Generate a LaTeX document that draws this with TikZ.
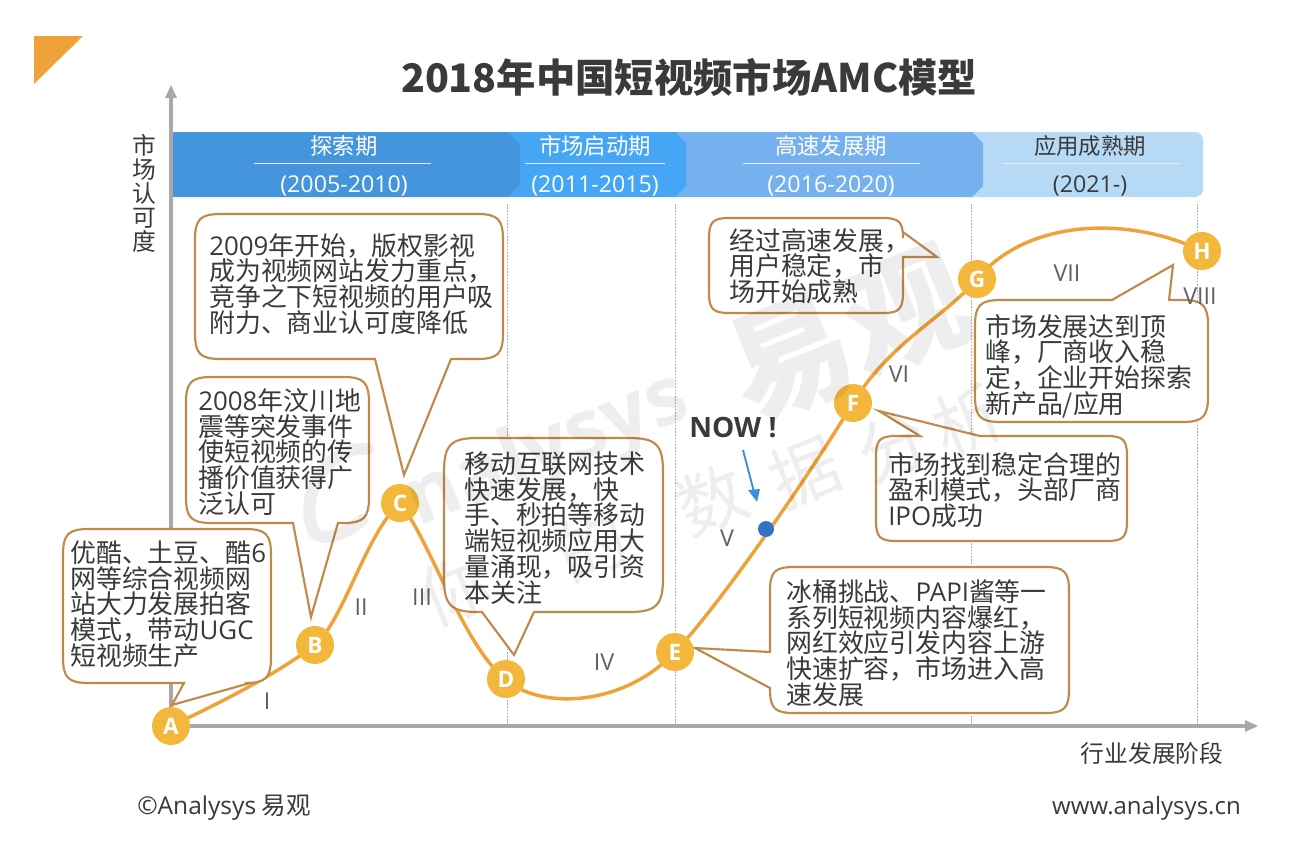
\documentclass[tikz,border=0pt]{standalone}
\usepackage{fontspec}
\setmainfont{Noto Sans CJK SC}
\newfontfamily\opn{Open Sans}
\newcommand{\lat}[1]{{\opn #1}}
\definecolor{txt}{HTML}{3A3A3A}
\definecolor{orangeC}{HTML}{F0A23A}
\definecolor{calloutC}{HTML}{C08A4A}
\definecolor{dotC}{HTML}{F3B73B}
\definecolor{axisC}{HTML}{A8A8A8}
\definecolor{bandA}{HTML}{4495DB}
\definecolor{bandB}{HTML}{45A6F5}
\definecolor{bandC}{HTML}{75B1EE}
\definecolor{bandD}{HTML}{B6DAF5}
\definecolor{nowC}{HTML}{3B8FDD}
\definecolor{dotblue}{HTML}{3372C4}
\tikzset{
  x=0.75pt,y=-0.75pt,
  callout/.style={draw=calloutC,fill=white,line width=1.6pt,line join=miter},
  calltext/.style={anchor=west,align=left,text=txt,font=\fontsize{19.4pt}{19.3pt}\selectfont,inner sep=0pt},
  letter/.style={circle,fill=dotC,text=white,minimum size=28.5pt,inner sep=0pt,font=\opn\bfseries\fontsize{17pt}{17pt}\selectfont},
  roman/.style={text=black!62,font=\opn\fontsize{17.5pt}{17.5pt}\selectfont,inner sep=0pt},
  bandhead/.style={font=\fontsize{16.8pt}{17pt}\selectfont,inner sep=0pt},
  bandyear/.style={font=\opn\fontsize{17.4pt}{17.4pt}\selectfont,inner sep=0pt},
  bandrule/.style={draw=white!92!blue,line width=1pt},
  gridline/.style={draw=gray!70,line width=0.5pt,dash pattern=on 1.2pt off 1.2pt},
  axisline/.style={draw=axisC,line width=2.6pt},
  axishead/.style={fill=axisC},
  curveC/.style={draw=orangeC,line width=2.6pt},
  wm/.style={text=black,text opacity=0.065,inner sep=0pt,rotate=22},
}
% #1 left #2 top #3 right #4 bottom #5 radius, then tail pieces for the top, right, bottom, left sides
\newcommand{\cbox}[9]{%
  \def\tailL{#9}%
  \draw[callout] (#1+#5,#2) #6 -- (#3-#5,#2) .. controls (#3-0.2*#5,#2) and (#3,#2+0.2*#5) .. (#3,#2+#5)
    #7 -- (#3,#4-#5) .. controls (#3,#4-0.2*#5) and (#3-0.2*#5,#4) .. (#3-#5,#4)
    #8 -- (#1+#5,#4) .. controls (#1+0.2*#5,#4) and (#1,#4-0.2*#5) .. (#1,#4-#5)
    \tailL -- (#1,#2+#5) .. controls (#1,#2+0.2*#5) and (#1+0.2*#5,#2) .. (#1+#5,#2) -- cycle;}
\begin{document}
\begin{tikzpicture}
\useasboundingbox (0,0) rectangle (1294,854);
\fill[white] (0,0) rectangle (1294,854);
% corner mark
\fill[orangeC] (34,36) -- (83,36) -- (34,84) -- cycle;
% title
\node[inner sep=0pt,text=txt,font=\bfseries\fontsize{29.5pt}{30pt}\selectfont] (title) at (689,77) {2018年中国短视频市场AMC模型};
% bands (right to left so that each arrow overlaps the next)
\fill[bandD,rounded corners=6pt] (960,132) rectangle (1203,197);
\fill[bandC] (675,132) -- (972,132) -- (983,143) -- (983,186) -- (972,197) -- (675,197) -- cycle;
\fill[bandB] (507,132) -- (675,132) -- (686,143) -- (686,186) -- (675,197) -- (507,197) -- cycle;
\fill[bandA] (172,134) -- (172,197) -- (507,197) -- (520,184) -- (520,144) -- (507,132) -- (174,132) -- cycle;
\node[bandhead,text=white] (h1) at (344,146) {探索期};
\node[bandhead,text=white] (h2) at (595,146) {市场启动期};
\node[bandhead,text=white] (h3) at (831,146) {高速发展期};
\node[bandhead,text=txt] (h4) at (1090,146) {应用成熟期};
\draw[bandrule] (254,163.5) -- (431,163.5);
\draw[bandrule] (525,163.5) -- (665,163.5);
\draw[bandrule] (743,163.5) -- (920,163.5);
\draw[bandrule] (1003,163.5) -- (1180,163.5);
\node[bandyear,text=white] (y1) at (344,186) {(2005-2010)};
\node[bandyear,text=white] (y2) at (595,186) {(2011-2015)};
\node[bandyear,text=white] (y3) at (831,186) {(2016-2020)};
\node[bandyear,text=txt] (y4) at (1090,186) {(2021-)};
% grid
\draw[gridline] (507,204) -- (507,726);
\draw[gridline] (675,204) -- (675,726);
\draw[gridline] (971,204) -- (971,726);
\draw[gridline] (1197,204) -- (1197,726);
% axes
\coordinate (origin) at (171,726);
\coordinate (ytop) at (171,97);
\coordinate (xend) at (1246,726);
\draw[axisline] (origin) -- (ytop);
\draw[axisline] (origin) -- (xend);
\fill[axishead] (165,98) -- (171,85) -- (177,98) -- cycle;
\fill[axishead] (1245,720) -- (1258,726) -- (1245,732) -- cycle;
\node[align=center,text=txt,inner sep=0pt,font=\fontsize{17.8pt}{18pt}\selectfont] (ylab) at (144,193) {市\\场\\认\\可\\度};
\node[text=txt,inner sep=0pt,font=\fontsize{17.8pt}{18pt}\selectfont] (xlab) at (1152,753) {行业发展阶段};
% curve
\coordinate (pA) at (171,726);
\coordinate (pB) at (315,645);
\coordinate (pC) at (400,503);
\coordinate (pD) at (506,679);
\coordinate (pE) at (675,652);
\coordinate (pF) at (853,403);
\coordinate (pG) at (977,279);
\coordinate (pH) at (1202,251);
\draw[curveC] (pA) .. controls (220,703) and (275,675) .. (pB)
  .. controls (345,618) and (365,535) .. (pC)
  .. controls (430,540) and (465,650) .. (pD)
  .. controls (535,708) and (620,710) .. (pE)
  .. controls (715,610) and (800,490) .. (pF)
  .. controls (890,342) and (945,317) .. (pG)
  .. controls (1028,218) and (1130,216) .. (pH);
% callouts
\cbox{63}{529}{271}{683}{26}{}{}{-- (250,683) -- (172,705) -- (184,683)}{}
\cbox{186}{377}{369}{523}{26}{}{}{-- (338,523) -- (311,617) -- (293,523)}{}
\cbox{195}{214}{503}{359}{26}{}{}{-- (451,359) -- (404,475) -- (375,359)}{}
\cbox{444}{438}{663}{612}{34}{}{}{-- (534,612) -- (514,655) -- (482,612)}{}
\cbox{770}{567}{1069}{713}{24}{}{}{}{-- (770,688) -- (695,648) -- (770,652)}
\cbox{876}{436}{1127}{541}{20}{-- (920,436) -- (879,411) -- (980,436)}{}{}{}
\cbox{709}{218}{903}{313}{20}{}{-- (903,232) -- (937,257) -- (903,257)}{}{}
\cbox{975}{300}{1208}{422}{26}{-- (1112,300) -- (1173,265) -- (1169,300)}{}{}{}
\node[calltext] (tA) at (70,604) {优酷、土豆、酷\lat{6}\\网等综合视频网\\站大力发展拍客\\模式，带动\lat{UGC}\\短视频生产};
\node[calltext] (tB) at (198,452) {\lat{2008}年汶川地\\震等突发事件\\使短视频的传\\播价值获得广\\泛认可};
\node[calltext] (tC) at (209,284) {\lat{2009}年开始，版权影视\\成为视频网站发力重点，\\竞争之下短视频的用户吸\\附力、商业认可度降低};
\node[calltext] (tD) at (464,528) {移动互联网技术\\快速发展，快\\手、秒拍等移动\\端短视频应用大\\量涌现，吸引资\\本关注};
\node[calltext] (tE) at (786,643) {冰桶挑战、\lat{PAPI}酱等一\\系列短视频内容爆红，\\网红效应引发内容上游\\快速扩容，市场进入高\\速发展};
\node[calltext] (tF) at (888,490) {市场找到稳定合理的\\盈利模式，头部厂商\\\lat{IPO}成功};
\node[calltext] (tG) at (729,266) {经过高速发展，\\用户稳定，市\\场开始成熟};
\node[calltext] (tH) at (985,366) {市场发展达到顶\\峰，厂商收入稳\\定，企业开始探索\\新产品/应用};
% circles
\node[letter] (A) at (pA) {A};
\node[letter] (B) at (pB) {B};
\node[letter] (C) at (pC) {C};
\node[letter] (D) at (pD) {D};
\node[letter] (E) at (pE) {E};
\node[letter] (F) at (pF) {F};
\node[letter] (G) at (pG) {G};
\node[letter] (H) at (pH) {H};
% roman
\node[roman] (r1) at (267,701) {I};
\node[roman] (r2) at (361,607) {II};
\node[roman] (r3) at (422,597) {III};
\node[roman] (r4) at (604,662) {IV};
\node[roman] (r5) at (727,538) {V};
\node[roman] (r6) at (899,374) {VI};
\node[roman] (r7) at (1067,273) {VII};
\node[roman] (r8) at (1200,296) {VIII};
% now
\node[inner sep=0pt,text=txt,font=\opn\bfseries\fontsize{21pt}{21pt}\selectfont] (now) at (733,428) {NOW !};
\node[circle,fill=dotblue,minimum size=12pt,inner sep=0pt] (dot) at (766,529) {};
\coordinate (nowstart) at (743,450);
\coordinate (nowend) at (757,502);
\draw[draw=nowC,line width=1.4pt] (nowstart) -- (754,492);
\fill[nowC] (748,490) -- (nowend) -- (760,489) -- cycle;
% footer
\node[anchor=west,inner sep=0pt,text=txt,font=\fontsize{18.4pt}{18.4pt}\selectfont] (foot) at (137,808) {\lat{©Analysys} 易观};
\node[anchor=east,inner sep=0pt,text=txt,font=\opn\fontsize{18pt}{18pt}\selectfont] (url) at (1241,808) {www.analysys.cn};
% watermark, faintly over everything
\draw[black,draw opacity=0.065,line width=9pt,line cap=round] (368,449) .. controls (330,445) and (300,490) .. (312,528) .. controls (318,545) and (345,535) .. (362,520);
\node[wm,font=\opn\bfseries\fontsize{60pt}{60pt}\selectfont] (wmA) at (548,452) {nalysys};
\node[wm,font=\bfseries\fontsize{92pt}{92pt}\selectfont] (wmB) at (848,335) {易观};
\node[wm,font=\fontsize{52pt}{52pt}\selectfont] (w1) at (455,590) {你};
\node[wm,font=\fontsize{52pt}{52pt}\selectfont] (w2) at (592,545) {的};
\node[wm,font=\fontsize{52pt}{52pt}\selectfont] (w3) at (712,500) {数};
\node[wm,font=\fontsize{52pt}{52pt}\selectfont] (w4) at (805,472) {据};
\node[wm,font=\fontsize{52pt}{52pt}\selectfont] (w5) at (893,447) {分};
\node[wm,font=\fontsize{52pt}{52pt}\selectfont] (w6) at (968,420) {析};
\end{tikzpicture}
\end{document}
